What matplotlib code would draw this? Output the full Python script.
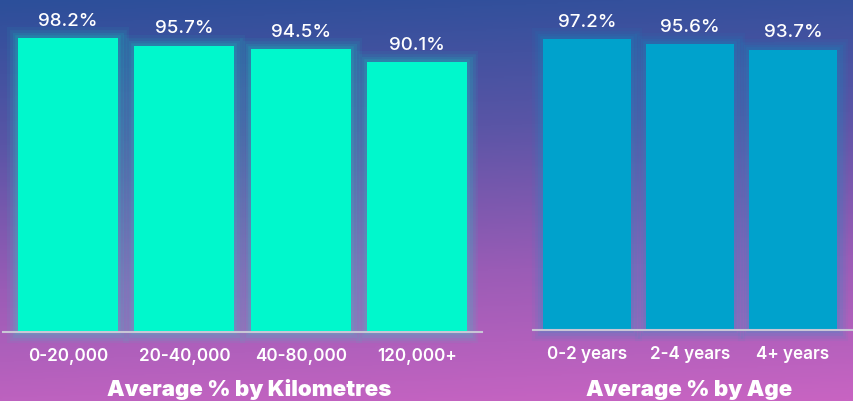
import numpy as np
import matplotlib
matplotlib.use("Agg")
import matplotlib.pyplot as plt
from matplotlib.colors import LinearSegmentedColormap

km_labels = ["0-20,000", "20-40,000", "40-80,000", "120,000+"]
km_values = [98.2, 95.7, 94.5, 90.1]
age_labels = ["0-2 years", "2-4 years", "4+ years"]
age_values = [97.2, 95.6, 93.7]

W, H, DPI = 854, 401, 100
fig = plt.figure(figsize=(W / DPI, H / DPI), dpi=DPI)

# background gradient
bg = fig.add_axes([0, 0, 1, 1], zorder=-10)
cmap = LinearSegmentedColormap.from_list("bg", ["#2c4f9a", "#5a55a6", "#9a5cb6", "#c864c2"])
yy = np.linspace(0, 1, 300)[:, None]
xx = np.linspace(0, 1, 300)[None, :]
grad = np.clip(yy * 0.92 + xx * 0.08, 0, 1)
bg.imshow(grad, cmap=cmap, aspect="auto", extent=[0, 1, 0, 1], origin="upper")
bg.axis("off")

val_font = dict(family="Inter", size=13.5, color="white", weight="medium")
tick_font = dict(family="Inter", size=12.3, color="white", weight="semibold")
title_font = dict(family="Inter", size=16, color="white", weight=900)


def panel(rect, labels, values, color, xlim, ymax, width, title, title_x):
    ax = fig.add_axes(rect)
    ax.set_facecolor("none")
    x = np.arange(len(values))
    # glow
    for lw, a in [(16, 0.05), (12, 0.07), (8, 0.09), (4, 0.12)]:
        ax.bar(x, values, width=width, facecolor="none", edgecolor=color,
               linewidth=lw, alpha=a, clip_on=False, zorder=1)
    ax.bar(x, values, width=width, color=color, zorder=2, clip_on=False)
    for xi, v in zip(x, values):
        ax.annotate(f"{v}%", (xi, v), xytext=(0, 6), textcoords="offset points",
                    ha="center", va="bottom", **val_font)
    ax.set_xlim(*xlim)
    ax.set_ylim(0, ymax)
    for s in ["top", "right", "left"]:
        ax.spines[s].set_visible(False)
    ax.spines["bottom"].set_color("#c9c6d6")
    ax.spines["bottom"].set_linewidth(1.5)
    ax.spines["bottom"].set_zorder(3)
    ax.set_yticks([])
    ax.set_xticks(x)
    ax.set_xticklabels(labels, **tick_font)
    ax.tick_params(axis="x", length=0, pad=12)
    fig.text(title_x / W, 1 - 396 / H, title, ha="center",
             va="baseline", **title_font)
    return ax


panel([3 / W, 1 - 331.7 / H, 479 / W, 331.7 / H], km_labels, km_values,
      "#00f8cc", (-0.559, 3.559), 331.7 / 2.99, 0.86,
      "Average % by Kilometres", 249)
panel([532.7 / W, 1 - 329.7 / H, 319 / W, 329.7 / H], age_labels, age_values,
      "#00a2cc", (-0.527, 2.57), 329.7 / 2.99, 0.854,
      "Average % by Age", 689)

fig.savefig("out.png", dpi=DPI)
